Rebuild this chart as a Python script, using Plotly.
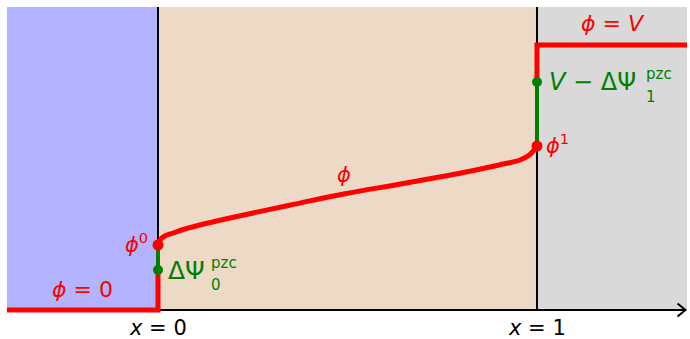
import plotly.graph_objects as go

# ---- data (in diagram units) ----
x_min, x_max = -0.3984, 1.3958
y_min, y_top = -0.10, 3.03
phi_V = 2.65          # phi = V level on the right
phi_0 = 0.65          # phi^0 at x = 0
dpsi0 = 0.40          # Delta Psi_0^pzc
phi_1 = 1.64          # phi^1 at x = 1
v_minus_dpsi1 = 2.28  # V - Delta Psi_1^pzc

curve_x = [0.0, 0.005, 0.018, 0.04, 0.071, 0.11, 0.19, 0.35, 0.49, 0.64, 0.80, 0.90, 0.955, 0.98, 0.992, 1.0]
curve_y = [0.65, 0.70, 0.74, 0.77, 0.81, 0.85, 0.92, 1.05, 1.16, 1.26, 1.37, 1.45, 1.50, 1.55, 1.60, 1.64]

RED = "#ff0000"
GREEN = "#008000"
FONT = "DejaVu Sans"

fig = go.Figure()

# left conductor potential
fig.add_trace(go.Scatter(x=[x_min, 0, 0], y=[0, 0, dpsi0], mode="lines",
                         line=dict(color=RED, width=5), hoverinfo="skip"))
fig.add_trace(go.Scatter(x=[0, 0], y=[dpsi0, phi_0], mode="lines",
                         line=dict(color=GREEN, width=4), hoverinfo="skip"))
# electrolyte profile
fig.add_trace(go.Scatter(x=curve_x, y=curve_y, mode="lines",
                         line=dict(color=RED, width=5, shape="spline"), hoverinfo="skip"))
# right side
fig.add_trace(go.Scatter(x=[1, 1], y=[phi_1, v_minus_dpsi1], mode="lines",
                         line=dict(color=GREEN, width=4), hoverinfo="skip"))
fig.add_trace(go.Scatter(x=[1, 1, x_max], y=[v_minus_dpsi1, phi_V, phi_V], mode="lines",
                         line=dict(color=RED, width=5), hoverinfo="skip"))
# dots
fig.add_trace(go.Scatter(x=[0, 1], y=[phi_0, phi_1], mode="markers",
                         marker=dict(color=RED, size=11), hoverinfo="skip"))
fig.add_trace(go.Scatter(x=[0, 1], y=[dpsi0, v_minus_dpsi1], mode="markers",
                         marker=dict(color=GREEN, size=10), hoverinfo="skip"))

shapes = [
    dict(type="rect", x0=x_min, x1=0, y0=0, y1=y_top, fillcolor="#b3b3ff", line=dict(width=0), layer="below"),
    dict(type="rect", x0=0, x1=1, y0=0, y1=y_top, fillcolor="#ecd9c6", line=dict(width=0), layer="below"),
    dict(type="rect", x0=1, x1=x_max, y0=0, y1=y_top, fillcolor="#d9d9d9", line=dict(width=0), layer="below"),
    dict(type="line", x0=0, x1=0, y0=0, y1=y_top, line=dict(color="black", width=2), layer="below"),
    dict(type="line", x0=1, x1=1, y0=0, y1=y_top, line=dict(color="black", width=2), layer="below"),
    dict(type="line", x0=x_min, x1=x_max - 0.004, y0=0, y1=0, line=dict(color="black", width=2), layer="below"),
    # arrow head
    dict(type="path", path=f"M {x_max-0.025},0.065 L {x_max-0.004},0 L {x_max-0.025},-0.065",
         line=dict(color="black", width=2), layer="above"),
]

def ann(x, y, text, color, size=22, xanchor="center", yanchor="middle", xshift=0, yshift=0):
    return dict(x=x, y=y, xref="x", yref="y", text=text, showarrow=False,
                font=dict(family=FONT, size=size, color=color),
                xanchor=xanchor, yanchor=yanchor, xshift=xshift, yshift=yshift)

annotations = [
    ann(-0.198, 0, "<i>ϕ</i> = 0", RED, yshift=21),
    ann(0, phi_0, "<i>ϕ</i><sup>0</sup>", RED, size=21, xanchor="right", xshift=-8, yshift=2),
    ann(0, dpsi0, "ΔΨ", GREEN, size=25, xanchor="left", xshift=8, yshift=0),
    ann(0, dpsi0, "pzc", GREEN, size=15, xanchor="left", xshift=51, yshift=7),
    ann(0, dpsi0, "0", GREEN, size=15, xanchor="left", xshift=51, yshift=-15),
    ann(0.49, 1.16, "<i>ϕ</i>", RED, size=21, yshift=19),
    ann(1, phi_1, "<i>ϕ</i><sup>1</sup>", RED, size=21, xanchor="left", xshift=7, yshift=2),
    ann(1, v_minus_dpsi1, "<i>V</i> − ΔΨ", GREEN, size=24, xanchor="left", xshift=10, yshift=0),
    ann(1, v_minus_dpsi1, "pzc", GREEN, size=15, xanchor="left", xshift=107, yshift=8),
    ann(1, v_minus_dpsi1, "1", GREEN, size=15, xanchor="left", xshift=107, yshift=-15),
    ann(1.2, phi_V, "<i>ϕ</i> = <i>V</i>", RED, yshift=22),
    ann(0, 0, "<i>x</i> = 0", "black", size=21, yanchor="top", yshift=-4),
    ann(1, 0, "<i>x</i> = 1", "black", size=21, yanchor="top", yshift=-4),
]

fig.update_layout(
    width=690, height=339,
    margin=dict(l=7, r=3, t=7, b=19),
    paper_bgcolor="white", plot_bgcolor="white",
    showlegend=False,
    xaxis=dict(range=[x_min, x_max], visible=False, fixedrange=True),
    yaxis=dict(range=[y_min, y_top], visible=False, fixedrange=True),
    shapes=shapes, annotations=annotations,
)

fig.write_html("out.html", config={"displayModeBar": False},
               post_script="document.body.style.margin='0';document.body.style.overflow='hidden';")
